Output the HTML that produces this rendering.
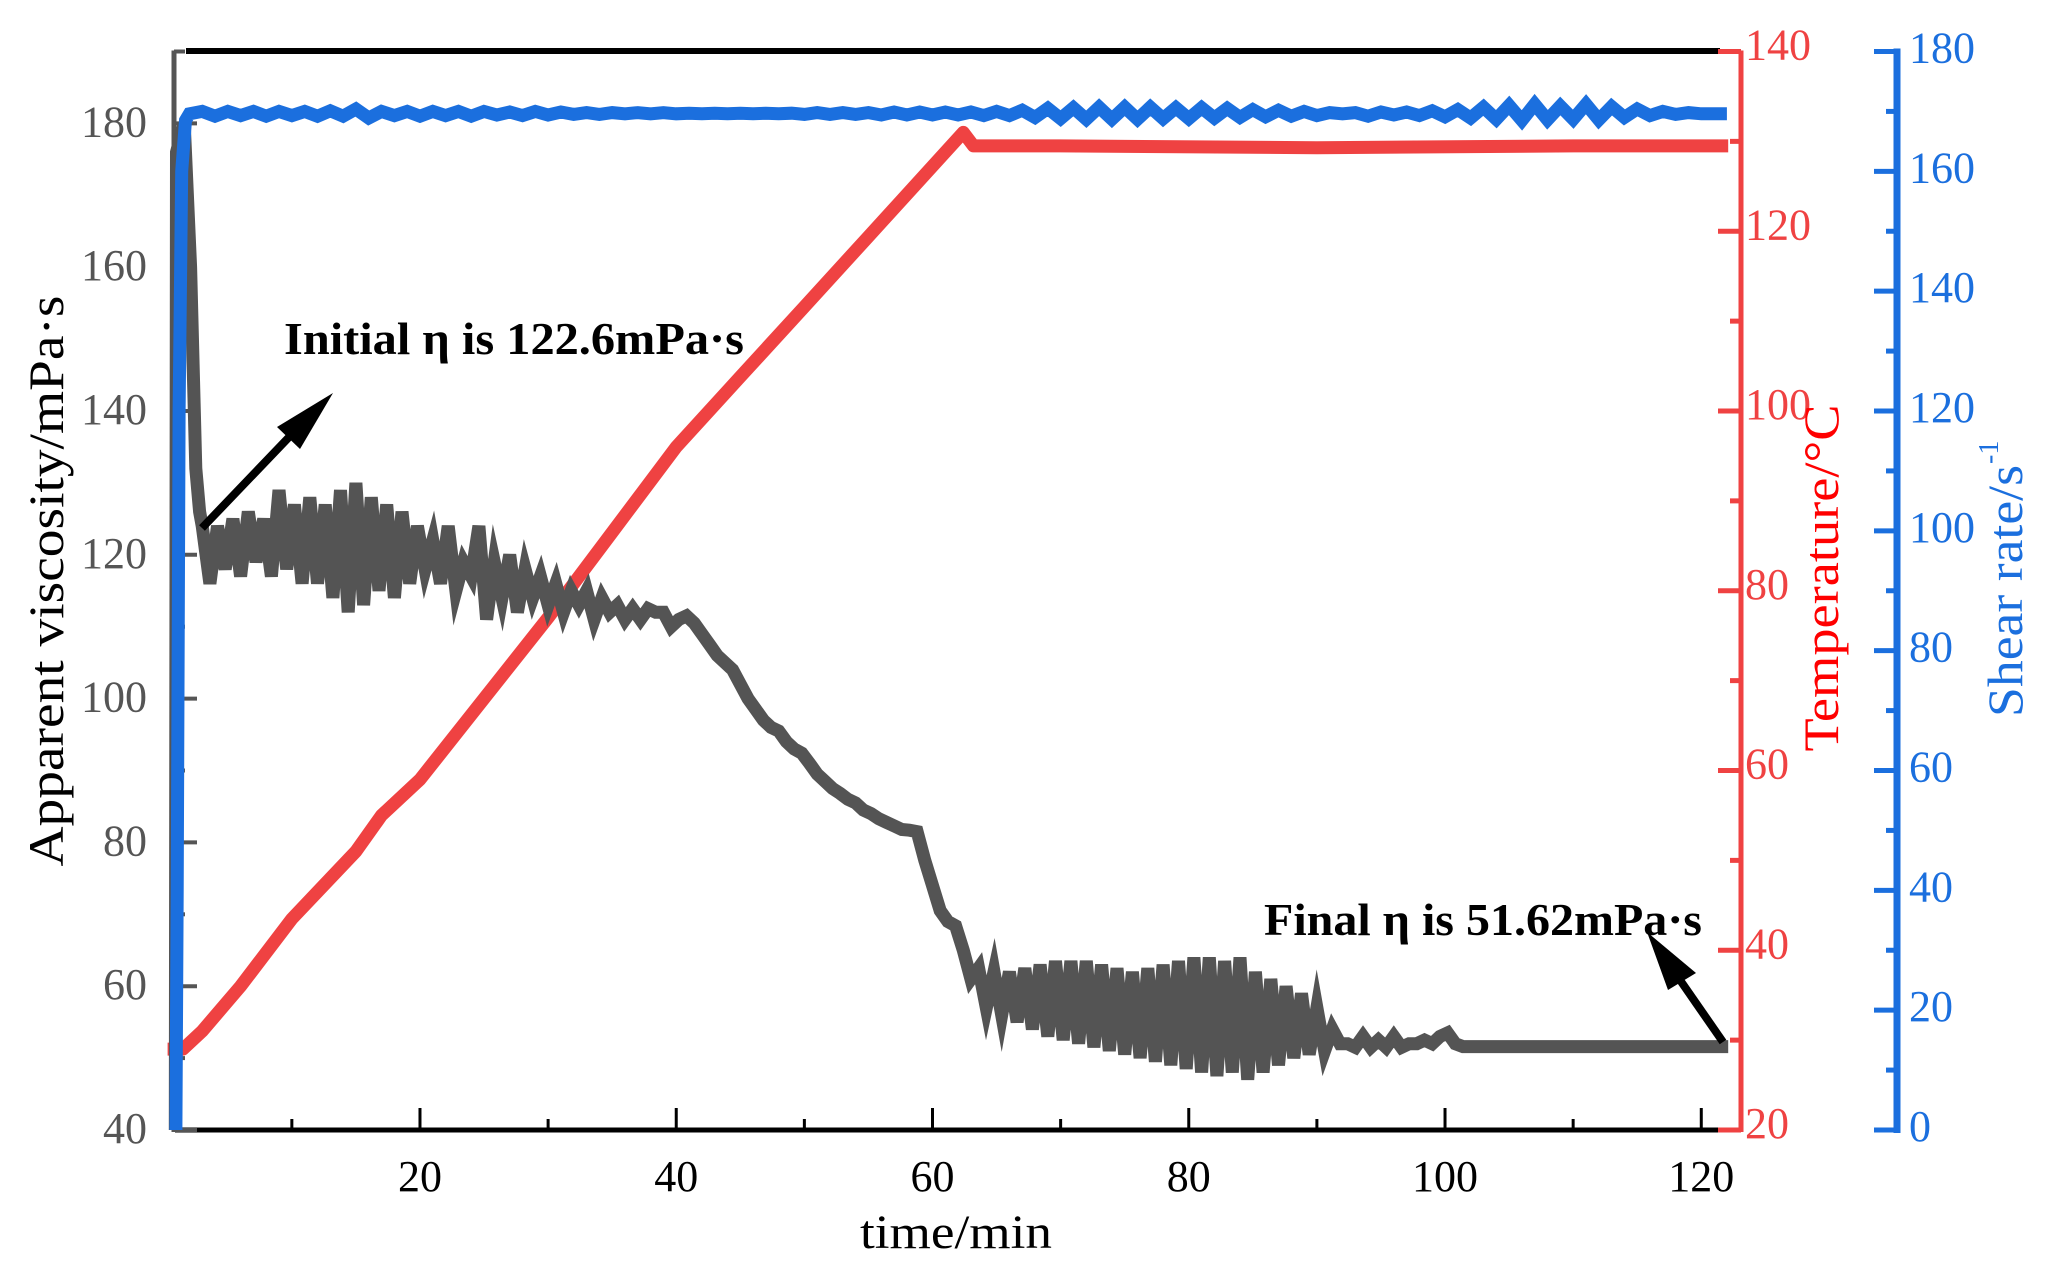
<!DOCTYPE html>
<html><head><meta charset="utf-8"><title>Viscosity, temperature and shear rate vs time</title>
<style>
html,body{margin:0;padding:0;background:#fff;}
svg{display:block;font-family:"Liberation Serif",serif;}
</style></head>
<body>
<svg id="chart" width="2049" height="1274" viewBox="0 0 2049 1274" xmlns="http://www.w3.org/2000/svg">
<g id="axes"></g>
<g id="series"></g>
<g id="labels"></g>
</svg>
<script>
// ---- data ----
const xTicks = [20, 40, 60, 80, 100, 120];
const viscTicks = [40, 60, 80, 100, 120, 140, 160, 180];
const tempTicks = [20, 40, 60, 80, 100, 120, 140];
const shearTicks = [0, 20, 40, 60, 80, 100, 120, 140, 160, 180];

// viscosity head / sampled body (start 3.0 min, every 0.6 min) / tail
const viscHeadT = [0.9, 1.0, 1.6, 2.1, 2.5, 2.8];
const viscHeadV = [40, 176, 180, 160, 132, 126];
const viscStart = 3.0, viscStep = 0.6;
const viscVals = [
124,116,124,118,125,117,126,119,125,117,129,118,127,116,128,116,127,114,129,112,130,113,128,115,127,114,126,116,124,118,122,116,
124,115,119,117,124,111,119,114,120,112,118,114,117,113,116,112,115,113,115,111,114,112,113,111,112.5,111,112.5,112,112,110,111,111.5,110.5,109,
107.5,106,105,104,102,100,98.5,97,96,95.5,94,93,92.4,91,89.5,88.5,87.5,86.8,86,85.5,84.5,84,83.3,82.8,82.3,81.8,81.7,81.5,77.5,74,70.5,69,68.4,65,61,62.5,57,62,56,
62,55,62.5,54,63,53,63.5,52.5,63.5,52,63.5,51.5,63,51,62.5,50.5,62,50,62.5,49.5,63,49,63.5,48.5,64,48,64,47.5,63.5,48,64,47,62,48,61,49,60,50,59,50.5,57,51,54,52,
52,51.5,53,51.5,52.5,51.5,53,51.5,52,52,52.5,52,53,53.5,52,51.6
];
const viscTailT = [122.1];
const viscTailV = [51.6];

// temperature
const tempT = [0.3, 1.5, 3, 6, 10, 15, 17, 20, 25, 30, 35, 40, 45, 50, 55, 62.4, 63.2, 70, 90, 110, 122.1];
const tempV = [29, 29, 31, 36, 43.5, 51, 55, 59, 68, 77, 86.5, 96, 103.8, 111.6, 119.4, 131, 129.5, 129.5, 129.3, 129.5, 129.5];

// shear rate head + sampled body (start 2 min, every 1 min)
const shearHeadT = [0.95, 1.05, 1.2, 1.4, 1.7];
const shearHeadV = [0, 40, 120, 160, 168.5];
const shearStart = 2, shearStep = 1;
const shearVals = [
169.6,170.0,169.2,170.0,169.3,170.0,169.2,170.0,169.3,170.0,169.2,170.1,169.2,170.4,168.9,170.0,169.3,170.0,169.2,170.0,
169.3,170.0,169.2,170.0,169.4,169.9,169.3,170.0,169.4,169.9,169.5,169.8,169.5,169.8,169.6,169.8,169.6,169.8,169.6,169.7,
169.6,169.7,169.6,169.7,169.6,169.7,169.6,169.7,169.5,169.8,169.5,169.8,169.5,169.8,169.4,169.9,169.4,169.9,169.4,169.9,
169.4,169.9,169.3,170.0,169.3,170.2,169.0,170.5,168.8,170.6,168.7,170.7,168.7,170.7,168.7,170.7,168.8,170.6,168.8,170.6,
168.9,170.5,169.0,170.3,169.1,170.2,169.2,170.0,169.3,169.8,169.6,169.8,169.2,169.9,169.4,169.9,169.3,170.1,169.1,170.3,
168.9,170.7,168.7,171.0,168.5,171.2,168.6,170.9,168.7,171.2,168.6,170.8,169.0,170.4,169.3,170.0,169.5,169.8,169.6,169.6,169.6
];

// ---- scales ----
const L = 175, R = 1741, T = 51.5, B = 1130;
const xMin = 0.88, xMax = 123.1;
function sx(t){ return L + (t - xMin) * (R - L) / (xMax - xMin); }
function syVisc(v){ return B - (v - 40) * (B - T) / 150; }
function syTemp(v){ return B - (v - 20) * (B - T) / 120; }
function syShear(v){ return B - v * (B - T) / 180; }

const NS = "http://www.w3.org/2000/svg";
function mk(tag, attrs, parent){
  const e = document.createElementNS(NS, tag);
  for (const k in attrs) e.setAttribute(k, attrs[k]);
  parent.appendChild(e);
  return e;
}
const axes = document.getElementById('axes');
const series = document.getElementById('series');
const labels = document.getElementById('labels');

// ---- axes ----
let e;
e = mk('line', {x1:186, y1:51, x2:1720, y2:51, stroke:'#000', 'stroke-width':6}, axes);


e = mk('line', {x1:L, y1:B, x2:R, y2:B, stroke:'#000', 'stroke-width':5}, axes);


for (let t = 10; t <= 120; t += 10){
  const major = t % 20 === 0;
  e = mk('line', {x1:sx(t), y1:B, x2:sx(t), y2:B - (major ? 22 : 11), stroke:'#000', 'stroke-width':3}, axes);
  
  
}
xTicks.forEach(t => {
  e = mk('text', {x:sx(t), y:1191, 'font-size':44, 'text-anchor':'middle', fill:'#000'}, labels);
  e.textContent = t;
  
  
});

// left viscosity axis
e = mk('line', {x1:174, y1:T - 1, x2:174, y2:B + 2, stroke:'#555', 'stroke-width':5}, axes);


for (let v = 40; v <= 190; v += 10){
  const major = v % 20 === 0;
  e = mk('line', {x1:174, y1:syVisc(v), x2:174 + (major ? 23 : 11), y2:syVisc(v), stroke:'#555', 'stroke-width':4}, axes);
  
  
}
viscTicks.forEach(v => {
  e = mk('text', {x:147, y:syVisc(v) + 13, 'font-size':44, 'text-anchor':'end', fill:'#555'}, labels);
  e.textContent = v;
  
  
});

// right temperature axis
e = mk('line', {x1:1741, y1:T - 1, x2:1741, y2:B + 2, stroke:'#ef4242', 'stroke-width':5}, axes);


for (let v = 20; v <= 140; v += 10){
  const major = v % 20 === 0;
  e = mk('line', {x1:1741, y1:syTemp(v), x2:1741 - (major ? 23 : 11), y2:syTemp(v), stroke:'#ef4242', 'stroke-width':5}, axes);
  
  
}
tempTicks.forEach(v => {
  e = mk('text', {x:1745, y:syTemp(v) + 8, 'font-size':44, fill:'#ef4242'}, labels);
  e.textContent = v;
  
  
});

// far right shear axis
e = mk('line', {x1:1897, y1:T - 3, x2:1897, y2:B + 3, stroke:'#1b6fde', 'stroke-width':7}, axes);


for (let v = 0; v <= 180; v += 10){
  const major = v % 20 === 0;
  e = mk('line', {x1:1897, y1:syShear(v), x2:1897 - (major ? 23 : 11), y2:syShear(v), stroke:'#1b6fde', 'stroke-width':5}, axes);
  
  
}
shearTicks.forEach(v => {
  e = mk('text', {x:1909, y:syShear(v) + 11, 'font-size':44, fill:'#1b6fde'}, labels);
  e.textContent = v;
  
  
});

// ---- series ----
function pts(ts, vs, sy){ return ts.map((t, i) => sx(t).toFixed(1) + ',' + sy(vs[i]).toFixed(1)); }

// temperature
e = mk('polyline', {points: pts(tempT, tempV, syTemp).join(' '), fill:'none', stroke:'#ef4242', 'stroke-width':13, 'stroke-linejoin':'round'}, series);



// viscosity
const vT = viscHeadT.slice(), vV = viscHeadV.slice();
viscVals.forEach((v, i) => { vT.push(viscStart + i * viscStep); vV.push(v); });
viscTailT.forEach((t, i) => { vT.push(t); vV.push(viscTailV[i]); });
e = mk('polyline', {points: pts(vT, vV, syVisc).join(' '), fill:'none', stroke:'#545454', 'stroke-width':13, 'stroke-linejoin':'miter', 'stroke-miterlimit':6}, series);



// shear
const sT = shearHeadT.slice(), sV = shearHeadV.slice();
shearVals.forEach((v, i) => { sT.push(shearStart + i * shearStep); sV.push(v); });
e = mk('polyline', {points: pts(sT, sV, syShear).join(' '), fill:'none', stroke:'#1b6fde', 'stroke-width':13, 'stroke-linejoin':'miter', 'stroke-miterlimit':6}, series);



// ---- titles ----
e = mk('text', {x:0, y:0, 'font-size':50, 'text-anchor':'middle', fill:'#000', transform:'translate(63,581) rotate(-90)', textLength:571, lengthAdjust:'spacingAndGlyphs'}, labels);
e.textContent = 'Apparent viscosity/mPa·s';



e = mk('text', {x:956, y:1248, 'font-size':48, 'text-anchor':'middle', fill:'#000', textLength:192, lengthAdjust:'spacingAndGlyphs'}, labels);
e.textContent = 'time/min';



e = mk('text', {x:0, y:0, 'font-size':50, 'text-anchor':'middle', fill:'#ff0000', transform:'translate(1838,578) rotate(-90)', textLength:347, lengthAdjust:'spacingAndGlyphs'}, labels);
e.textContent = 'Temperature/°C';



e = mk('text', {x:0, y:0, 'font-size':50, 'text-anchor':'middle', fill:'#1b6fde', transform:'translate(2022,591) rotate(-90)', textLength:252, lengthAdjust:'spacingAndGlyphs'}, labels);
e.textContent = 'Shear rate/s';


e = mk('text', {x:0, y:0, 'font-size':28, fill:'#1b6fde', transform:'translate(1998,464) rotate(-90)'}, labels);
e.textContent = '-1';



// ---- annotations ----
e = mk('text', {x:284, y:354, 'font-size':46, 'font-weight':'bold', fill:'#000', textLength:460, lengthAdjust:'spacingAndGlyphs'}, labels);
e.textContent = 'Initial η is 122.6mPa·s';


e = mk('line', {x1:202, y1:528, x2:292, y2:434, stroke:'#000', 'stroke-width':8}, labels);


e = mk('polygon', {points:'333,393 300,449 277,427', fill:'#000'}, labels);



e = mk('text', {x:1264, y:935, 'font-size':46, 'font-weight':'bold', fill:'#000', textLength:438, lengthAdjust:'spacingAndGlyphs'}, labels);
e.textContent = 'Final η is 51.62mPa·s';


e = mk('line', {x1:1723, y1:1042, x2:1680, y2:980, stroke:'#000', 'stroke-width':8}, labels);


e = mk('polygon', {points:'1647,932 1696,973 1668,990', fill:'#000'}, labels);


</script>
</body></html>
